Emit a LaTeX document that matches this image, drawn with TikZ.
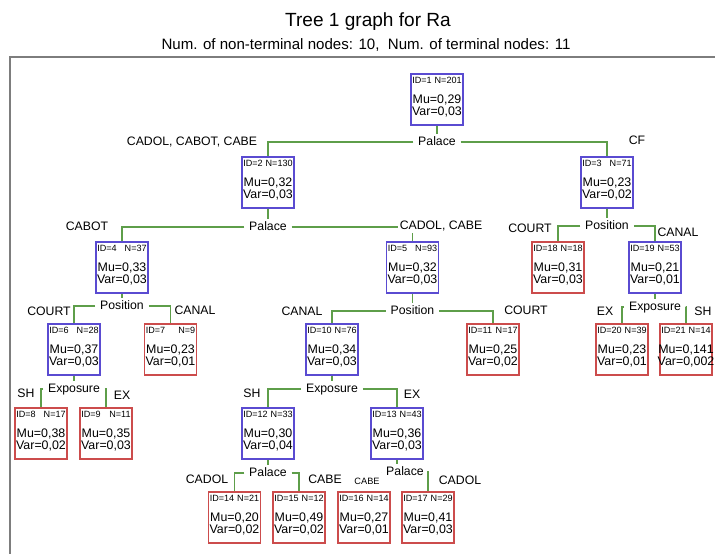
\documentclass[tikz,border=0pt]{standalone}
\usepackage{fontspec}
\setmainfont{Liberation Sans}

\begin{document}
\begin{tikzpicture}[x=0.75pt, y=-0.75pt]
  \def\boxheight{38.25pt}
  \definecolor{linkgreen}{RGB}{94,158,74}
  \definecolor{splitblue}{RGB}{90,75,209}
  \definecolor{leafred}{RGB}{204,76,76}
  \definecolor{framegray}{RGB}{125,125,125}
  \def\boxtext#1#2#3#4{%
    \begin{minipage}[t][\boxheight][t]{37pt}
      \fontsize{6.8}{7}\selectfont
      \rule{0pt}{7pt}\makebox[\linewidth][s]{ID=#1\hfill N=#2}\par
      \fontsize{9.3}{9}\selectfont
      \rule{0pt}{14pt}\makebox[\linewidth]{Mu=#3}\par
      \makebox[\linewidth]{Var=#4}\par
    \end{minipage}}
  \tikzstyle{nonterminal} = [draw=splitblue, line width=1.1pt, fill=white, inner xsep=1pt, inner ysep=0pt]
  \tikzstyle{terminal} = [nonterminal, draw=leafred]
  \tikzstyle{splitlabel} = [fill=white, inner xsep=3.5pt, inner ysep=1pt, text height=7pt, text depth=2pt, font=\fontsize{9.2}{11}\selectfont]
  \tikzstyle{branchlabel} = [splitlabel, inner xsep=1pt]
  \tikzstyle{link} = [draw=linkgreen, line width=1.1pt]
  \tikzstyle{plotframe} = [draw=framegray, line width=1.5pt]

  \useasboundingbox (0,0) rectangle (715,554);

  \node[font=\fontsize{14.3}{16}\selectfont] (title) at (368,22) {Tree 1 graph for Ra};
  \node[font=\fontsize{11.3}{13}\selectfont] (subtitle) at (366,45) {Num. of non-terminal nodes: 10,\ \ Num. of terminal nodes: 11};
  \draw[plotframe] (716,57) -- (9.5,57) -- (9.5,555);

  % tree nodes
  \node[nonterminal] (n1) at (437,99.5) {\boxtext{1}{201}{0,29}{0,03}};

  \node[nonterminal] (n2) at (268,182.5) {\boxtext{2}{130}{0,32}{0,03}};
  \node[nonterminal] (n3) at (607,182.5) {\boxtext{3}{71}{0,23}{0,02}};

  \node[nonterminal] (n4) at (122,267.5) {\boxtext{4}{37}{0,33}{0,03}};
  \node[nonterminal] (n5) at (412.5,267.5) {\boxtext{5}{93}{0,32}{0,03}};
  \node[terminal] (n18) at (558,267.5) {\boxtext{18}{18}{0,31}{0,03}};
  \node[nonterminal] (n19) at (655,267.5) {\boxtext{19}{53}{0,21}{0,01}};

  \node[nonterminal] (n6) at (74,349.5) {\boxtext{6}{28}{0,37}{0,03}};
  \node[terminal] (n7) at (170.5,349.5) {\boxtext{7}{9}{0,23}{0,01}};
  \node[nonterminal] (n10) at (332,349.5) {\boxtext{10}{76}{0,34}{0,03}};
  \node[terminal] (n11) at (493,349.5) {\boxtext{11}{17}{0,25}{0,02}};
  \node[terminal] (n20) at (622,349.5) {\boxtext{20}{39}{0,23}{0,01}};
  \node[terminal] (n21) at (686,349.5) {\boxtext{21}{14}{0,141}{0,002}};

  \node[terminal] (n8) at (41,433.5) {\boxtext{8}{17}{0,38}{0,02}};
  \node[terminal] (n9) at (106,433.5) {\boxtext{9}{11}{0,35}{0,03}};
  \node[nonterminal] (n12) at (268,433.5) {\boxtext{12}{33}{0,30}{0,04}};
  \node[nonterminal] (n13) at (397,433.5) {\boxtext{13}{43}{0,36}{0,03}};

  \node[terminal] (n14) at (234.5,517.5) {\boxtext{14}{21}{0,20}{0,02}};
  \node[terminal] (n15) at (299,517.5) {\boxtext{15}{12}{0,49}{0,02}};
  \node[terminal] (n16) at (364,517.5) {\boxtext{16}{14}{0,27}{0,01}};
  \node[terminal] (n17) at (428,517.5) {\boxtext{17}{29}{0,41}{0,03}};

  % split variables
  \node[splitlabel] (s1) at (437,142) {Palace};
  \node[splitlabel] (s2) at (268,227) {Palace};
  \node[splitlabel] (s3) at (607,226) {Position};
  \node[splitlabel] (s4) at (122,306) {Position};
  \node[splitlabel] (s5) at (412.5,311) {Position};
  \node[splitlabel] (s19) at (655,307) {Exposure};
  \node[splitlabel] (s6) at (74,389) {Exposure};
  \node[splitlabel] (s10) at (332,389) {Exposure};
  \node[splitlabel] (s12) at (268,473) {Palace};
  \node[splitlabel] (s13) at (405,472) {Palace};

  \draw[link] (n1.south) -- (s1.north);
  \draw[link] (s1.west) -| (n2.north);
  \draw[link] (s1.east) -| (n3.north);

  \draw[link] (n2.south) -- (s2.north);
  \draw[link] (s2.west) -| (n4.north);
  \draw[link] (s2.east) -| (n5.north);

  \draw[link] (n3.south) -- (s3.north);
  \draw[link] (s3.west) -| (n18.north);
  \draw[link] (s3.east) -| (n19.north);

  \draw[link] (n4.south) -- (s4.north);
  \draw[link] (s4.west) -| (n6.north);
  \draw[link] (s4.east) -| (n7.north);

  \draw[link] (n5.south) -- (s5.north);
  \draw[link] (s5.west) -| (n10.north);
  \draw[link] (s5.east) -| (n11.north);

  \draw[link] (n19.south) -- (s19.north);
  \draw[link] (s19.west) -| (n20.north);
  \draw[link] (s19.east) -| (n21.north);

  \draw[link] (n6.south) -- (s6.north);
  \draw[link] (s6.west) -| (n8.north);
  \draw[link] (s6.east) -| (n9.north);

  \draw[link] (n10.south) -- (s10.north);
  \draw[link] (s10.west) -| (n12.north);
  \draw[link] (s10.east) -| (n13.north);

  \draw[link] (n12.south) -- (s12.north);
  \draw[link] (s12.west) -| (n14.north);
  \draw[link] (s12.east) -| (n15.north);

  \draw[link] (n13.south) -- (n13.south |- s13.north);
  \draw[link] (s13.west) -| (n16.north);
  \draw[link] (s13.east) -| (n17.north);

  % branch values
  \node[branchlabel] (b1l) at (192,142) {CADOL, CABOT, CABE};
  \node[branchlabel] (b1r) at (637,141) {CF};
  \node[branchlabel] (b2l) at (87,227) {CABOT};
  \node[branchlabel] (b2r) at (441,226) {CADOL, CABE};
  \node[branchlabel] (b3l) at (530,229) {COURT};
  \node[branchlabel] (b3r) at (678,233) {CANAL};
  \node[branchlabel] (b4l) at (49,312) {COURT};
  \node[branchlabel] (b4r) at (195,311) {CANAL};
  \node[branchlabel] (b5l) at (302,312) {CANAL};
  \node[branchlabel] (b5r) at (526,311) {COURT};
  \node[branchlabel] (b19l) at (605,312) {EX};
  \node[branchlabel] (b19r) at (703,312) {SH};
  \node[branchlabel] (b6l) at (26,394) {SH};
  \node[branchlabel] (b6r) at (122,396) {EX};
  \node[branchlabel] (b10l) at (252,394) {SH};
  \node[branchlabel] (b10r) at (412,395) {EX};
  \node[branchlabel] (b12l) at (207,480) {CADOL};
  \node[branchlabel] (b12r) at (325,480) {CABE};
  \node[branchlabel, font=\fontsize{6.9}{8}\selectfont, inner ysep=3pt] (b13l) at (367,481) {CABE};
  \node[branchlabel] (b13r) at (460,481) {CADOL};

\end{tikzpicture}
\end{document}
